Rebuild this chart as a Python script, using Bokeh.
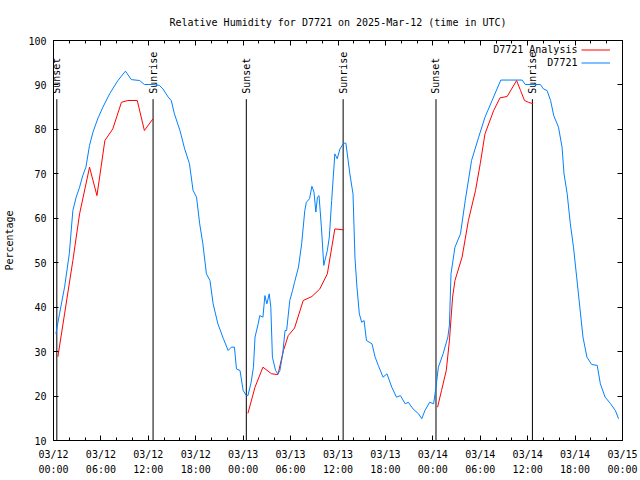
import numpy as np
from bokeh.plotting import figure
from bokeh.models import Range1d, FixedTicker, LinearAxis, Legend, LegendItem, Label
from bokeh.core.properties import value
from bokeh.embed import file_html
from bokeh.resources import INLINE

FONT = "DejaVu Sans Mono"
NAN = float("nan")

TITLE = "Relative Humidity for D7721 on 2025-Mar-12 (time in UTC)"
Y_LABEL = "Percentage"
SERIES_ANALYSIS = "D7721 Analysis"
SERIES_OBS = "D7721"

# x values are hours since 2025-03-12 00:00 UTC
tick_hours = [0, 6, 12, 18, 24, 30, 36, 42, 48, 54, 60, 66, 72]
tick_labels = ["03/12\n00:00", "03/12\n06:00", "03/12\n12:00", "03/12\n18:00",
               "03/13\n00:00", "03/13\n06:00", "03/13\n12:00", "03/13\n18:00",
               "03/14\n00:00", "03/14\n06:00", "03/14\n12:00", "03/14\n18:00",
               "03/15\n00:00"]
minor_hours = [2, 4, 8, 10, 14, 16, 20, 22, 26, 28, 32, 34, 38, 40, 44, 46,
               50, 52, 56, 58, 62, 64, 68, 70]
y_ticks = [10, 20, 30, 40, 50, 60, 70, 80, 90, 100]

obs_hours = [0.3, 0.76, 1.4, 2.0, 2.45, 2.87, 3.3, 3.7, 4.1, 4.56, 5.0, 5.6, 6.25, 7.1,
             8.15, 9.1, 9.85, 10.9, 11.5, 12.6, 13.4, 13.85, 14.5, 14.9, 15.3, 16.0,
             16.6, 17.2, 17.66, 18.1, 18.5, 18.9, 19.35, 19.8, 20.2, 20.8, 21.5, 22.1,
             22.5, 22.9, 23.15, 23.6, 24.0, 24.4, 24.6, 25.0, 25.3, 25.5, 25.9, 26.1,
             26.5, 26.75, 27.0, 27.3, 27.5, 27.7, 28.1, 28.4, 28.65, 29.0, 29.3, 29.5,
             29.9, 30.25, 30.5, 31.0, 31.4, 31.8, 32.0, 32.4, 32.7, 32.96, 33.2, 33.4,
             33.6, 33.9, 34.2, 34.65, 34.9, 35.2, 35.6, 35.9, 36.25, 36.7, 37.0, 37.5,
             37.9, 38.15, 38.4, 38.7, 39.0, 39.3, 39.6, 40.3, 40.7, 41.1, 41.7, 42.2,
             42.8, 43.4, 43.9, 44.5, 44.9, 45.5, 46.2, 46.6, 47.0, 47.6, 48.1, 48.4,
             48.7, 49.3, 49.9, 50.1, 50.3, 50.8, 51.5, 52.1, 52.9, 53.8, 54.6, 55.5,
             56.6, 57.6, 59.3, 59.7, 61.6, 62.0, 62.45, 62.9, 63.3, 63.9, 64.35, 64.6,
             65.0, 65.4, 65.8, 66.2, 66.6, 67.0, 67.5, 68.1, 68.8, 69.2, 69.8, 70.5,
             71.1, 71.5]
obs_rh = [34, 38.5, 44.5, 52, 61.75, 64.75, 67, 69.6, 71.5, 76.4, 79.4, 82.4, 85, 88,
          91, 93.1, 91.2, 91, 90.1, 90.1, 89.9, 89.1, 87.3, 86.5, 83.5, 79.75,
          75.6, 72.3, 66.25, 64.75, 58.75, 54.25, 47.5, 46, 40.75, 36.25, 32.9, 30.25,
          31, 31, 26.1, 25.75, 21.25, 20.1, 20.1, 23, 26.5, 33.25, 36.25, 38.1,
          37.75, 42.6, 40.75, 43, 40, 28.75, 25.75, 25, 25.75, 29.5, 34.75, 34.75,
          41.5, 43.75, 45.6, 49, 54.25, 61.75, 63.6, 64.4, 67.2, 65.9, 61.4, 64.75,
          65.1, 58, 49.4, 52.75, 55.75, 64, 74.5, 73.4, 75.6, 76.9, 76.9, 70,
          65.5, 51, 44.5, 38.5, 36.6, 37, 32.5, 31.75, 28.75, 26.9, 24.25, 25,
          22, 19.75, 20.1, 18.25, 18.6, 17.1, 16, 14.9, 16.75, 18.6, 18.25, 22,
          26.5, 29.5, 33.25, 36, 47.5, 53.5, 56.5, 64, 73, 78.25, 82.75, 86.5,
          91.1, 91.1, 91.1, 90.1, 90.1, 89.1, 88.75, 86.5, 83.1, 80.5, 76, 70,
          65.5, 58.75, 53.5, 46.75, 40, 33.25, 28.75, 27.1, 26.9, 22.75, 19.75, 18.25,
          16.75, 14.9]

ana_hours = [0.55, 1.4, 2.45, 3.3, 4.56, 5.5, 6.5, 7.5, 8.6, 9.4, 10.6, 11.5, 12.6,
             NAN,
             24.6, 25.5, 26.5, 27.6, 28.4, 29.1, 29.7, 30.5, 31.6, 32.7, 33.7, 34.65,
             35.6, 36.7,
             NAN,
             48.6, 49.1, 49.7, 50.1, 50.5, 50.8, 51.7, 52.5, 53.4, 54.0, 54.6, 55.7,
             56.5, 57.4, 58.6, 59.1, 59.6, 60.1, 60.7]
ana_rh = [28.8, 38.5, 50.5, 61, 71.5, 65.1, 77.5, 80.1, 86.1, 86.5, 86.5, 79.75, 82.4,
          NAN,
          16.1, 22, 26.5, 25, 24.85, 30.25, 33.6, 35.3, 41.5, 42.4, 44.1, 47.5,
          57.6, 57.4,
          NAN,
          17.5, 21.25, 25.75, 32.5, 42.25, 46, 51.25, 59.5, 66.25, 72.3, 79, 84.25,
          87.1, 87.4, 91, 88.75, 86.5, 86.1, 85.75]

sun_hours = [0.42, 12.6, 24.4, 36.65, 48.4, 60.6]
sun_labels = ["Sunset", "Sunrise", "Sunset", "Sunrise", "Sunset", "Sunrise"]

RED = "#ff0000"
BLUE = "#0080ff"

p = figure(width=640, height=480, output_backend="svg", toolbar_location=None,
           x_range=Range1d(0, 72), y_range=Range1d(10, 100),
           min_border_left=53, min_border_right=18, min_border_top=40,
           min_border_bottom=40, title=TITLE)
p.title.text_font = FONT
p.title.text_font_size = "10px"
p.title.text_font_style = "normal"
p.title.text_color = "black"
p.title.align = "center"
p.title.standoff = 25
p.outline_line_color = "black"
p.xgrid.visible = False
p.ygrid.visible = False
p.background_fill_color = "white"
p.border_fill_color = "white"

xticker = FixedTicker(ticks=tick_hours, minor_ticks=minor_hours)
yticker = FixedTicker(ticks=y_ticks, minor_ticks=[])

xa = p.xaxis[0]
xa.ticker = xticker
xa.major_label_overrides = {t: l for t, l in zip(tick_hours, tick_labels)}
ya = p.yaxis[0]
ya.ticker = yticker
ya.axis_label = Y_LABEL

for ax in (xa, ya):
    ax.major_label_text_font = FONT
    ax.major_label_text_font_size = "10px"
    ax.axis_label_text_font = FONT
    ax.axis_label_text_font_size = "10px"
    ax.axis_label_text_font_style = "normal"
    ax.axis_label_text_color = "black"
    ax.major_tick_out = 0
    ax.major_tick_in = 5
    ax.minor_tick_out = 0
    ax.minor_tick_in = 3
    ax.axis_line_color = "black"
    ax.major_tick_line_color = "black"
    ax.minor_tick_line_color = "black"
    ax.major_label_text_color = "black"
xa.major_label_standoff = 8
xa.major_label_text_line_height = 1.4
ya.major_label_standoff = 7
ya.axis_label_standoff = 10

top = LinearAxis(ticker=xticker, major_label_overrides={t: "" for t in tick_hours},
                 major_tick_out=0, major_tick_in=5, minor_tick_out=0, minor_tick_in=3,
                 major_label_standoff=0, major_label_text_font_size="10px")
right = LinearAxis(ticker=yticker, major_label_overrides={t: "" for t in y_ticks},
                   major_tick_out=0, major_tick_in=5, minor_tick_out=0, minor_tick_in=3,
                   major_label_standoff=0, major_label_text_font_size="10px")
p.add_layout(top, "above")
p.add_layout(right, "right")

# sunrise / sunset markers
p.segment(x0=sun_hours, y0=10, x1=sun_hours, y1=86.8, line_color="black", line_width=1)
p.text(x=sun_hours, y=88, text=sun_labels, angle=np.pi / 2, text_align="left",
       text_baseline="middle", text_font=value(FONT), text_font_size="10px",
       text_color="black")

r_ana = p.line(ana_hours, ana_rh, line_color=RED, line_width=1)
r_obs = p.line(obs_hours, obs_rh, line_color=BLUE, line_width=1)

legend = Legend(items=[LegendItem(label=value(" "), renderers=[r_ana]),
                       LegendItem(label=value(" "), renderers=[r_obs])],
                location=(528, 371), glyph_width=29, glyph_height=13, spacing=0,
                padding=0, margin=0, label_standoff=0, label_width=0, label_height=13,
                border_line_color=None, background_fill_alpha=0,
                label_text_font_size="10px", label_text_font=FONT)
p.add_layout(legend)

p.add_layout(Label(x=66.3, y=97.9, text=SERIES_ANALYSIS, text_align="right",
                   text_baseline="middle", text_font=FONT, text_font_size="10px",
                   text_color="black"))
p.add_layout(Label(x=66.3, y=95.0, text=SERIES_OBS, text_align="right",
                   text_baseline="middle", text_font=FONT, text_font_size="10px",
                   text_color="black"))

open("out.html", "w").write(file_html(p, INLINE))
